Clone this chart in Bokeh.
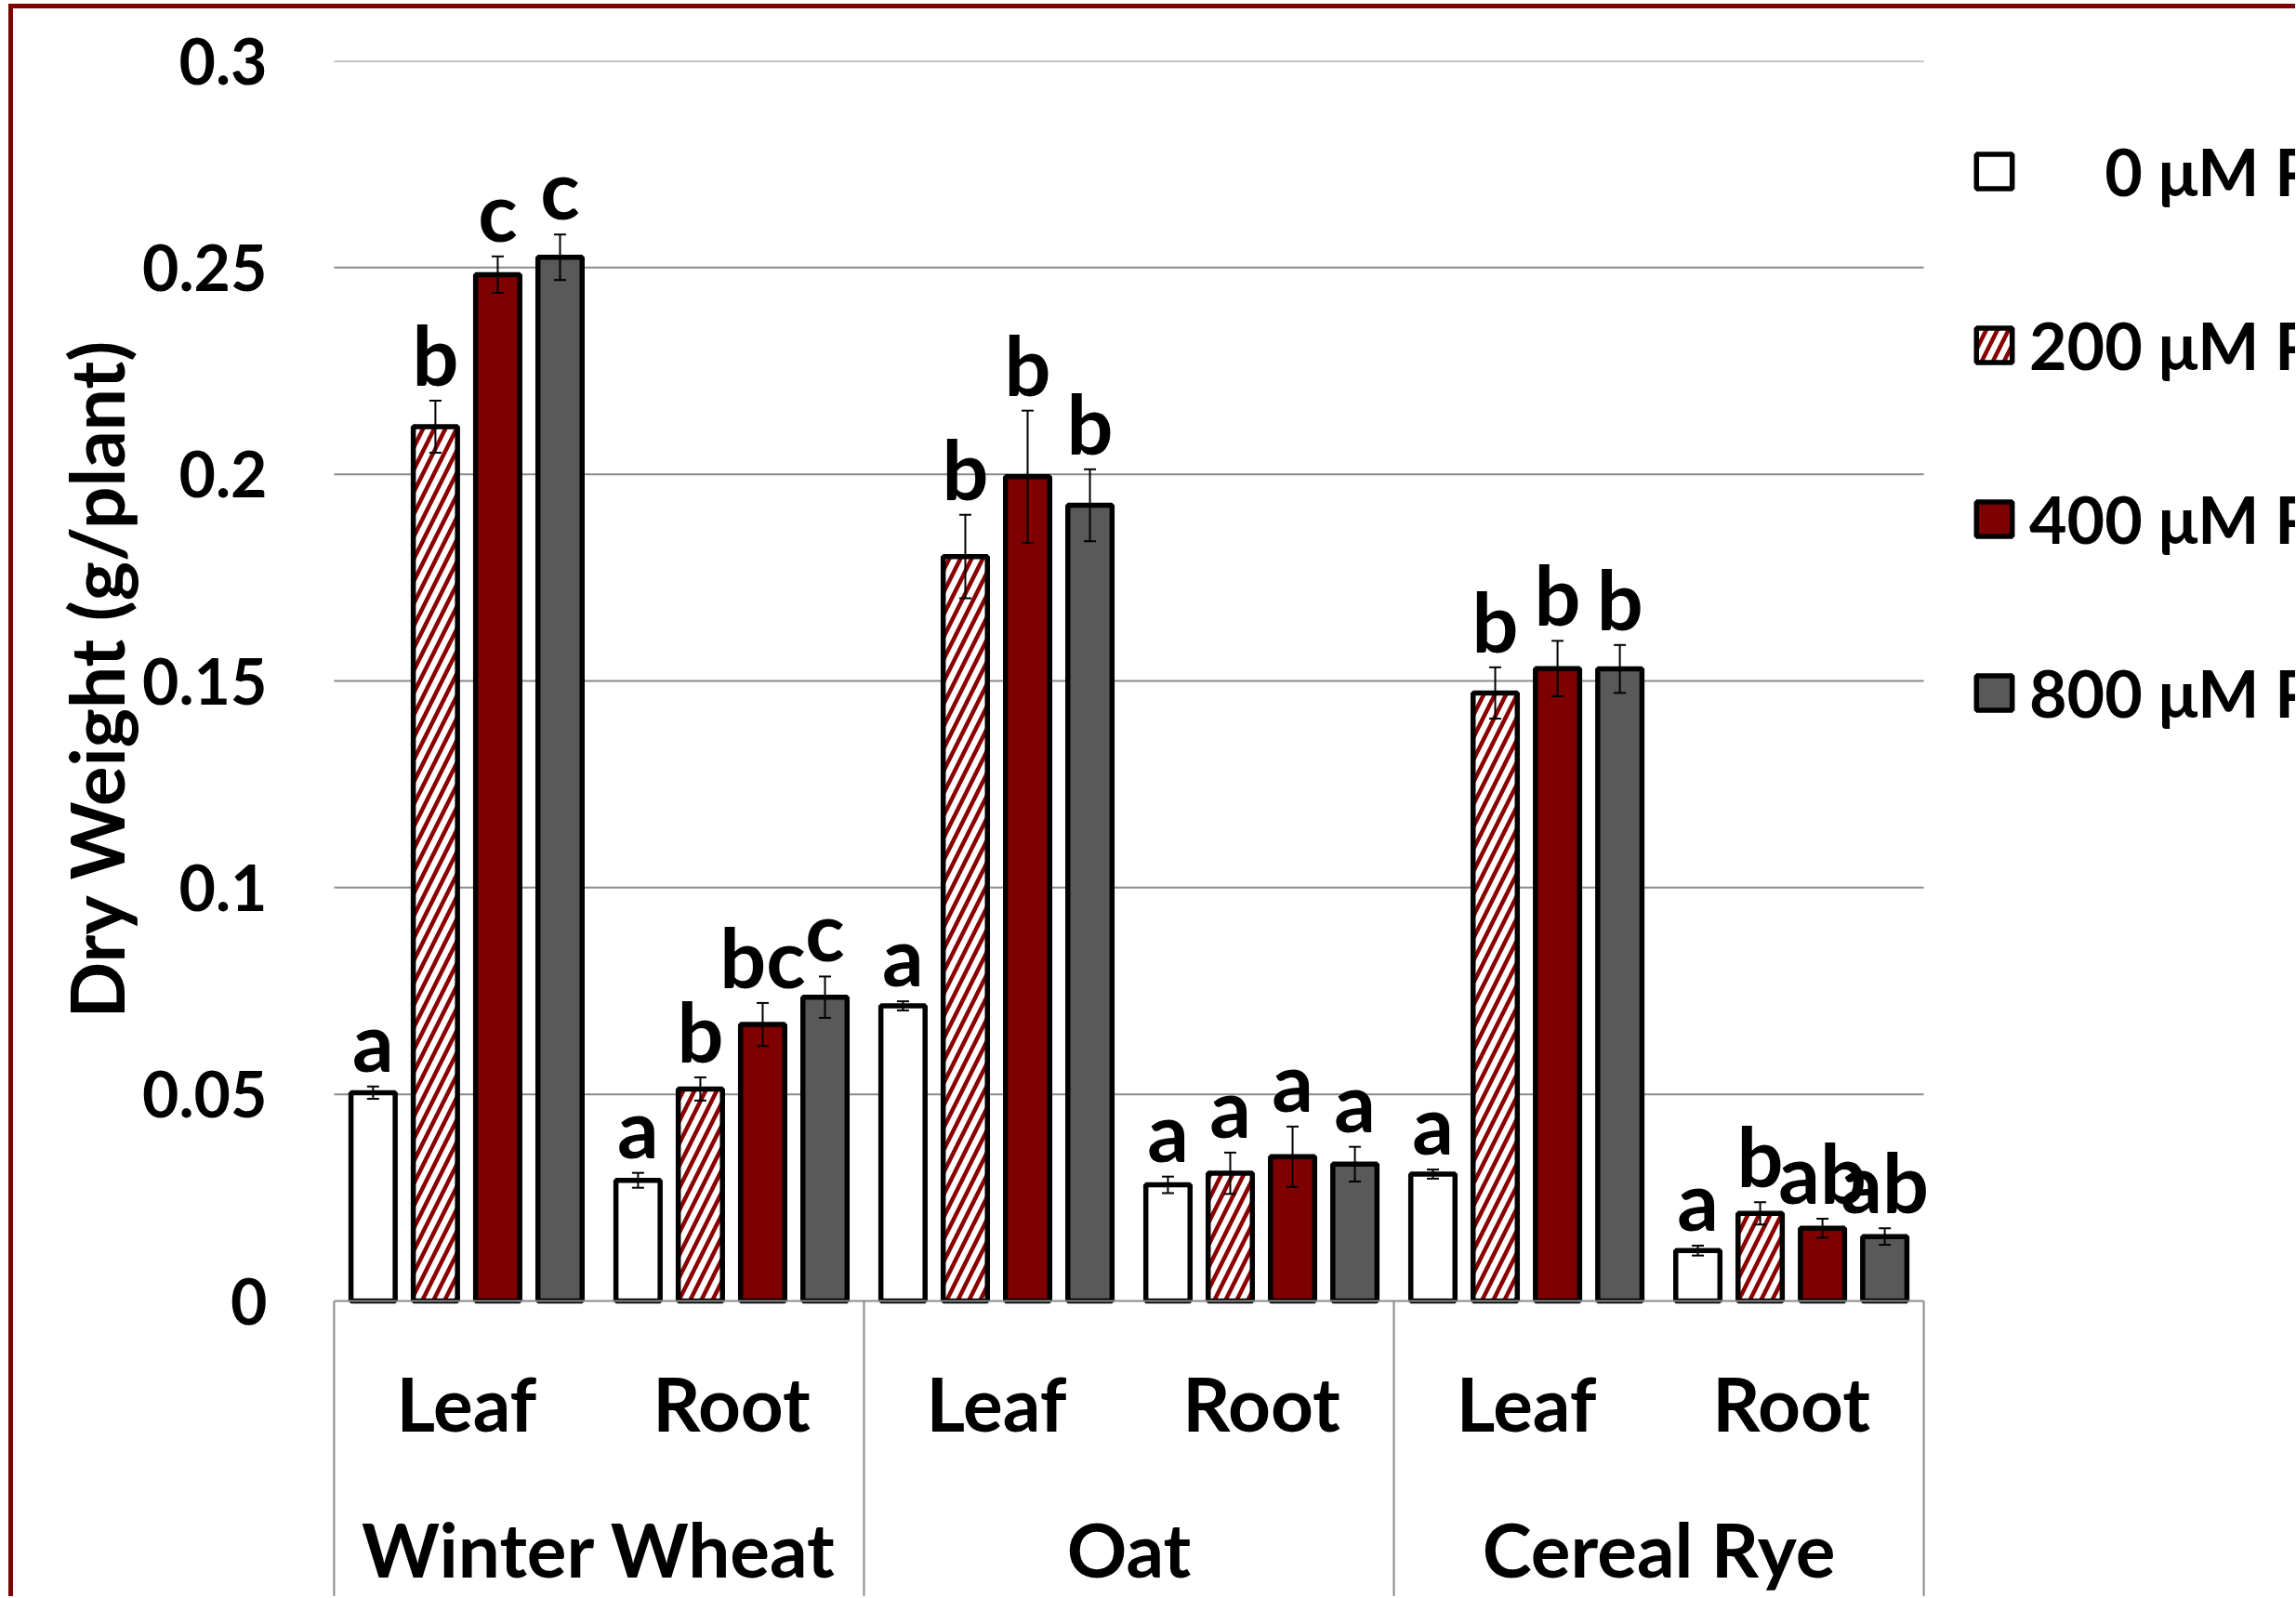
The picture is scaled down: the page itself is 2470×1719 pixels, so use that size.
from bokeh.plotting import figure
from bokeh.layouts import row
from bokeh.models import (ColumnDataSource, FactorRange, Range1d, CategoricalAxis,
                          FixedTicker, NumeralTickFormatter, Legend, LegendItem,
                          Whisker, TeeHead, Title)
from bokeh.transform import dodge
from bokeh.core.properties import value
from bokeh.embed import file_html
from bokeh.resources import INLINE

# ---------------- data ----------------
crops = ["Winter Wheat", "Oat", "Cereal Rye"]
tissues = ["Leaf", "Root"]
treatments = ["\u2007\u20070 μM P", "200 μM P", "400 μM P", "800 μM P"]

# order: WW Leaf, WW Root, Oat Leaf, Oat Root, Rye Leaf, Rye Root
dw_0 = [0.0504, 0.0292, 0.0714, 0.0281, 0.0307, 0.0122]
dw_200 = [0.2115, 0.0513, 0.1801, 0.0309, 0.1471, 0.0212]
dw_400 = [0.2483, 0.0669, 0.1994, 0.0349, 0.1530, 0.0176]
dw_800 = [0.2525, 0.0735, 0.1925, 0.0331, 0.1529, 0.0156]

se_0 = [0.0015, 0.0018, 0.0011, 0.0020, 0.0011, 0.0012]
se_200 = [0.0063, 0.0028, 0.0101, 0.0050, 0.0062, 0.0027]
se_400 = [0.0044, 0.0052, 0.0160, 0.0073, 0.0067, 0.0023]
se_800 = [0.0055, 0.0050, 0.0087, 0.0042, 0.0058, 0.0020]

let_0 = ["a", "a", "a", "a", "a", "a"]
let_200 = ["b", "b", "b", "a", "b", "b"]
let_400 = ["c", "bc", "b", "a", "b", "ab"]
let_800 = ["c", "c", "b", "a", "b", "ab"]

y_ticks = [0, 0.05, 0.1, 0.15, 0.2, 0.25, 0.3]

# ---------------- styling ----------------
FONT = "Lato"
fills = ["white", "white", "#7F0000", "#595959"]
hatches = [" ", "/", " ", " "]
HATCH = "#8B0000"
GRID = "#8a8a8a"

factors = [(c, t) for c in crops for t in tissues]

H = 1708
Y_TOP = 0.3
Y_BOTTOM = -0.07151
PAD = 0.14          # extra room (in category units) so edge labels are not cut

p = figure(width=2095, height=H,
           x_range=FactorRange(*factors, factor_padding=0, group_padding=0,
                               subgroup_padding=0, range_padding=PAD,
                               range_padding_units="absolute"),
           y_range=Range1d(Y_BOTTOM, Y_TOP),
           output_backend="svg", toolbar_location=None, x_axis_location=None,
           min_border_left=305, min_border_right=0, min_border_top=56,
           min_border_bottom=0)
p.outline_line_color = None
p.background_fill_color = "white"
p.border_fill_color = "white"

# y axis
ya = p.yaxis[0]
ya.ticker = FixedTicker(ticks=y_ticks)
ya.formatter = NumeralTickFormatter(format="0.[00]")
ya.axis_line_color = None
ya.major_tick_line_color = None
ya.minor_tick_line_color = None
ya.major_tick_out = 0
ya.major_label_standoff = 32
ya.major_label_text_font = FONT
ya.major_label_text_font_size = "68px"
ya.major_label_text_font_style = "bold"
ya.major_label_text_color = "black"

p.add_layout(Title(text="Dry Weight (g/plant)", align="left", offset=622,
                   text_font=FONT, text_font_size="80px", text_font_style="bold",
                   text_color="black", standoff=0), "left")

# horizontal grid lines, only across the categories
p.grid.visible = False
grid_src = ColumnDataSource(dict(y=y_ticks[1:],
                                 f0=[factors[0]] * (len(y_ticks) - 1),
                                 f1=[factors[-1]] * (len(y_ticks) - 1)))
p.segment(x0=dodge("f0", -0.5, range=p.x_range), x1=dodge("f1", 0.5, range=p.x_range),
          y0="y", y1="y", source=grid_src, line_color=GRID, line_width=2)

# category axes (inside the frame, at y = 0)
ax_part = CategoricalAxis(fixed_location=0, bounds=(0, len(factors)),
                          axis_line_color=GRID, axis_line_width=2,
                          major_tick_line_color=None, major_tick_out=0, major_tick_in=0,
                          minor_tick_line_color=None,
                          major_label_standoff=61, major_label_text_font=FONT,
                          major_label_text_font_size="80px",
                          major_label_text_font_style="bold",
                          major_label_text_color="black",
                          group_text_color=None, separator_line_color=None)
p.add_layout(ax_part, "below")

p.extra_x_ranges = {"crop": FactorRange(*crops, factor_padding=0,
                                        range_padding=PAD / len(tissues),
                                        range_padding_units="absolute")}
ax_crop = CategoricalAxis(x_range_name="crop", fixed_location=0, axis_line_color=None,
                          major_tick_line_color=None, major_tick_out=0, major_tick_in=0,
                          minor_tick_line_color=None,
                          major_label_standoff=218, major_label_text_font=FONT,
                          major_label_text_font_size="80px",
                          major_label_text_font_style="bold",
                          major_label_text_color="black")
p.add_layout(ax_crop, "below")

# box lines of the category table
crop_rng = p.extra_x_ranges["crop"]
crop_src = ColumnDataSource(dict(crop=crops, y0=[0] * len(crops), y1=[Y_BOTTOM] * len(crops)))
p.segment(x0=dodge("crop", -0.5, range=crop_rng), y0="y0",
          x1=dodge("crop", -0.5, range=crop_rng), y1="y1",
          x_range_name="crop", source=crop_src, line_color=GRID, line_width=2)
last_src = ColumnDataSource(dict(crop=crops[-1:], y0=[0], y1=[Y_BOTTOM]))
p.segment(x0=dodge("crop", 0.5, range=crop_rng), y0="y0",
          x1=dodge("crop", 0.5, range=crop_rng), y1="y1",
          x_range_name="crop", source=last_src, line_color=GRID, line_width=2)

# bars
PITCH = 0.2352
BAR_W = 0.1668
series = [(dw_0, se_0, let_0), (dw_200, se_200, let_200),
          (dw_400, se_400, let_400), (dw_800, se_800, let_800)]
bar_style = []
for j, (vals, errs, lets) in enumerate(series):
    off = (j - 1.5) * PITCH
    style = dict(fill_color=fills[j], line_color="black", line_width=5.5,
                 hatch_pattern=hatches[j], hatch_color=HATCH, hatch_scale=24,
                 hatch_weight=4.5)
    bar_style.append(style)
    src = ColumnDataSource(dict(cat=factors, val=vals,
                                lo=[v - e for v, e in zip(vals, errs)],
                                hi=[v + e for v, e in zip(vals, errs)],
                                lab=lets))
    p.vbar(x=dodge("cat", off, range=p.x_range), top="val", bottom=0, width=BAR_W,
           source=src, **style)
    head = dict(size=13, line_width=2, line_color="black")
    p.add_layout(Whisker(base=dodge("cat", off, range=p.x_range), upper="hi", lower="lo",
                         source=src, dimension="height", line_color="black", line_width=2,
                         level="annotation",
                         upper_head=TeeHead(**head), lower_head=TeeHead(**head)))
    p.text(x=dodge("cat", off, range=p.x_range), y="hi", text="lab", source=src,
           text_align="center", text_baseline="alphabetic", y_offset=-50,
           text_font=value(FONT), text_font_size="88px", text_font_style="bold",
           text_color="black")

# legend panel (separate canvas on the right, text runs off the edge like the original)
pl = figure(width=360, height=H, x_range=Range1d(0, 1), y_range=Range1d(0, 1),
            output_backend="svg", toolbar_location=None, x_axis_location=None,
            y_axis_location=None, min_border=0)
pl.outline_line_color = None
pl.grid.visible = False
pl.background_fill_color = "white"
pl.border_fill_color = "white"
legend_renderers = []
for style in bar_style:
    # key-only renderer: one empty (NaN) bar so that the key picks up the style
    key_src = ColumnDataSource(dict(x=[0.5], top=[float("nan")]))
    legend_renderers.append(pl.vbar(x="x", top="top", bottom=0, width=0.1,
                                    source=key_src, **style))
legend = Legend(items=[LegendItem(label=t, renderers=[r])
                       for t, r in zip(treatments, legend_renderers)],
                location=(12, 930), orientation="vertical",
                glyph_width=48, glyph_height=46, label_standoff=14, spacing=103,
                padding=0, margin=0, border_line_color=None, background_fill_alpha=0,
                label_text_font=FONT, label_text_font_size="70px",
                label_text_font_style="bold", label_text_color="black")
pl.add_layout(legend)

layout = row(p, pl)
layout.styles = {"margin-left": "9px", "margin-top": "4px",
                 "border-left": "5px solid #7F0000", "border-top": "5px solid #7F0000"}

open("out.html", "w").write(file_html(layout, INLINE))
